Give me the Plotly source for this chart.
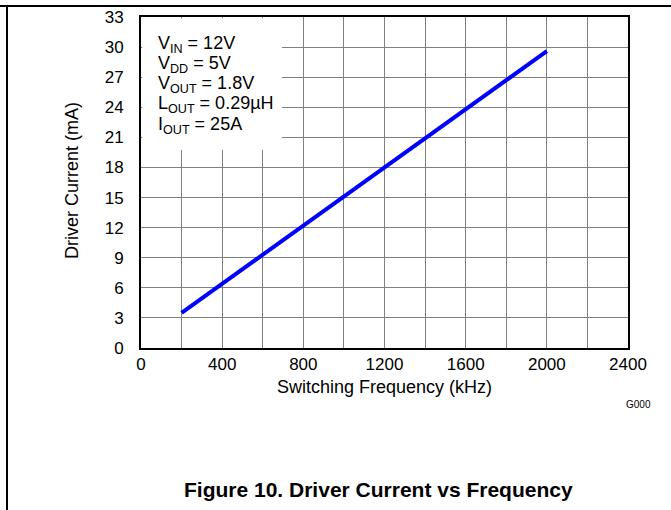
import plotly.graph_objects as go

freq_khz = [200, 400, 600, 800, 1000, 1200, 1400, 1600, 1800, 2000]
driver_current_ma = [3.5, 6.4, 9.3, 12.2, 15.1, 18.0, 20.9, 23.8, 26.7, 29.6]

x_tickvals = list(range(0, 2401, 400))
x_minor_step = 200
y_tickvals = list(range(0, 34, 3))

x_title = "Switching Frequency (kHz)"
y_title = "Driver Current (mA)"
caption = "Figure 10. Driver Current vs Frequency"
cond_lines = [
    "V<sub>IN</sub> = 12V",
    "V<sub>DD</sub> = 5V",
    "V<sub>OUT</sub> = 1.8V",
    "L<sub>OUT</sub> = 0.29µH",
    "I<sub>OUT</sub> = 25A",
]

FONT = "Liberation Sans, Arial, sans-serif"

L, R, T, B = 141, 628, 17, 348
W, H = 671, 510
pw, ph = R - L, B - T

def px(x):
    return (x - L) / pw

def py(y):
    return (B - y) / ph

fig = go.Figure()
fig.add_trace(go.Scatter(
    x=freq_khz, y=driver_current_ma, mode="lines",
    line=dict(color="#0000FF", width=4), showlegend=False,
))

axis_common = dict(showgrid=True, gridcolor="#808080", gridwidth=1, zeroline=False,
                   showline=True, linecolor="black", linewidth=2, mirror=True, ticks="")

fig.update_xaxes(range=[0, 2400], tickvals=x_tickvals,
                 minor=dict(dtick=x_minor_step, tick0=0, showgrid=True, gridcolor="#808080",
                            gridwidth=1, ticks=""),
                 tickfont=dict(family=FONT, size=17, color="black"), **axis_common)
fig.update_yaxes(range=[0, 33], tickvals=y_tickvals, ticklabelstandoff=12,
                 tickfont=dict(family=FONT, size=17, color="black"), **axis_common)

shapes = [
    # white box behind the conditions text
    dict(type="rect", xref="paper", yref="paper", x0=px(142.2), x1=px(282), y0=py(150), y1=py(18.2),
         fillcolor="white", line=dict(width=0), layer="above"),
    # outer frame lines
    dict(type="line", xref="paper", yref="paper", x0=px(0), x1=px(671), y0=py(6), y1=py(6),
         line=dict(color="black", width=2)),
    dict(type="line", xref="paper", yref="paper", x0=px(7), x1=px(7), y0=py(6), y1=py(512),
         line=dict(color="black", width=2)),
]

annotations = []
for i, t in enumerate(cond_lines):
    annotations.append(dict(xref="paper", yref="paper", x=px(156), y=py(44 + i * 20.3),
                            xanchor="left", yanchor="middle", text=t, showarrow=False,
                            font=dict(family=FONT, size=18, color="black")))
annotations.append(dict(xref="paper", yref="paper", x=px(384), y=py(387), text=x_title,
                        showarrow=False, xanchor="center", yanchor="middle",
                        font=dict(family=FONT, size=18, color="black")))
annotations.append(dict(xref="paper", yref="paper", x=px(72), y=py(181), text=y_title,
                        textangle=-90, showarrow=False, xanchor="center", yanchor="middle",
                        font=dict(family=FONT, size=18, color="black")))
annotations.append(dict(xref="paper", yref="paper", x=px(638), y=py(404), text="G000",
                        showarrow=False, xanchor="center", yanchor="middle",
                        font=dict(family=FONT, size=10, color="black")))
annotations.append(dict(xref="paper", yref="paper", x=px(378), y=py(489),
                        text="<b>" + caption + "</b>",
                        showarrow=False, xanchor="center", yanchor="middle",
                        font=dict(family=FONT, size=21, color="black")))

fig.update_layout(
    width=W, height=H,
    margin=dict(l=L, r=W - R, t=T, b=H - B, autoexpand=False),
    paper_bgcolor="white", plot_bgcolor="white",
    shapes=shapes, annotations=annotations,
)

fig.write_html("out.html", config={"displayModeBar": False},
               post_script="document.body.style.margin='0';")
